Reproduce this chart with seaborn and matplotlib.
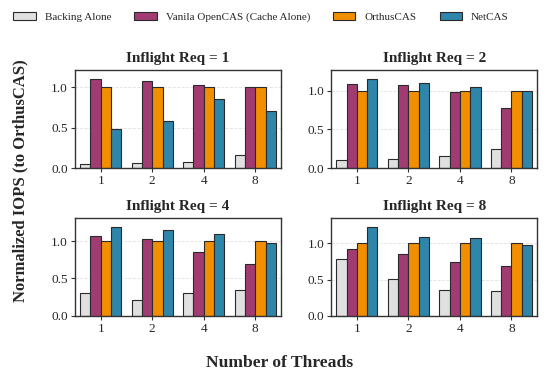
import matplotlib
matplotlib.use("Agg")
import matplotlib.pyplot as plt
import seaborn as sns
import pandas as pd

threads = ["1", "2", "4", "8"]
systems = ["Backing Alone", "Vanila OpenCAS (Cache Alone)", "OrthusCAS", "NetCAS"]
inflight = [1, 2, 4, 8]

backing = {
    1: [0.05, 0.06, 0.08, 0.16],
    2: [0.10, 0.11, 0.15, 0.24],
    4: [0.30, 0.21, 0.30, 0.34],
    8: [0.78, 0.51, 0.36, 0.34],
}
vanilla = {
    1: [1.10, 1.08, 1.02, 1.00],
    2: [1.09, 1.07, 0.98, 0.78],
    4: [1.07, 1.03, 0.85, 0.69],
    8: [0.93, 0.85, 0.75, 0.69],
}
orthus = {
    1: [1.00, 1.00, 1.00, 1.00],
    2: [1.00, 1.00, 1.00, 1.00],
    4: [1.00, 1.00, 1.00, 1.00],
    8: [1.00, 1.00, 1.00, 1.00],
}
netcas = {
    1: [0.48, 0.58, 0.85, 0.70],
    2: [1.15, 1.10, 1.05, 1.00],
    4: [1.19, 1.15, 1.10, 0.98],
    8: [1.23, 1.09, 1.07, 0.98],
}
colors = ["#e0e0e0", "#a23b72", "#f18f01", "#2e86ab"]

sns.set_theme(style="white")
plt.rcParams["font.family"] = ["Liberation Serif", "DejaVu Serif"]

fig, axes = plt.subplots(2, 2, figsize=(5.59, 3.81), dpi=100)
fig.subplots_adjust(left=0.134, right=0.961, top=0.816, bottom=0.171,
                    wspace=0.243, hspace=0.51)

for ax, req in zip(axes.flat, inflight):
    rows = []
    for series, name in zip([backing, vanilla, orthus, netcas], systems):
        for t, v in zip(threads, series[req]):
            rows.append({"Threads": t, "System": name, "IOPS": v})
    df = pd.DataFrame(rows)
    sns.barplot(data=df, x="Threads", y="IOPS", hue="System", order=threads,
                hue_order=systems, palette=colors, saturation=1,
                edgecolor="#2a2a2a", linewidth=0.8, width=0.8, ax=ax,
                legend=(req == 1))
    ymax = df["IOPS"].max() * 1.1
    ax.set_ylim(0, ymax)
    ax.set_yticks([0.0, 0.5, 1.0])
    ax.set_yticklabels(["0.0", "0.5", "1.0"])
    ax.set_title(f"Inflight Req = {req}", fontsize=11, fontweight="bold", pad=6)
    ax.set_xlabel("")
    ax.set_ylabel("")
    ax.grid(axis="y", linestyle="--", color="#cccccc", alpha=0.6, linewidth=0.6)
    ax.set_axisbelow(True)
    ax.tick_params(axis="both", labelsize=9.5, length=3, width=0.8,
                   color="#333333", bottom=True, left=True, pad=2)
    for s in ax.spines.values():
        s.set_color("#333333")
        s.set_linewidth(1.0)

handles, labels = axes[0, 0].get_legend_handles_labels()
axes[0, 0].get_legend().remove()
fig.legend(handles, labels, loc="center", bbox_to_anchor=(0.467, 0.955), ncol=4,
           frameon=False, fontsize=8, handlelength=2.0, handletextpad=0.8,
           columnspacing=2.1)

fig.text(0.036, 0.527, "Normalized IOPS (to OrthusCAS)", rotation=90,
         ha="center", va="center", fontsize=12, fontweight="bold")
fig.text(0.5, 0.047, "Number of Threads", ha="center", va="center",
         fontsize=12.6, fontweight="bold")

fig.savefig("out.png", dpi=100)
